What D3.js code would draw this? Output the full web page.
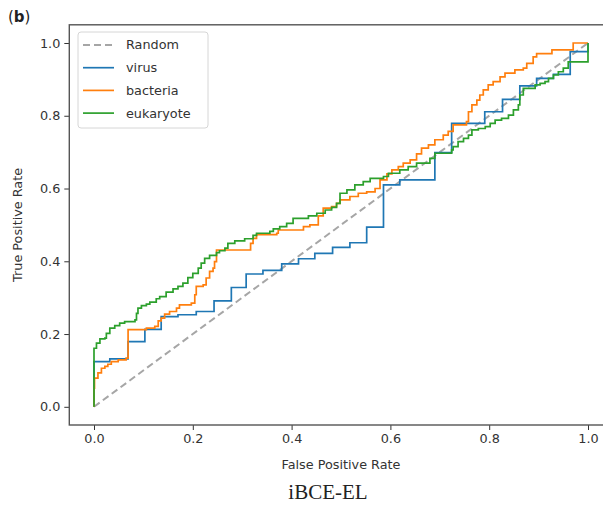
<!DOCTYPE html>
<html>
<head>
<meta charset="utf-8">
<script src="https://cdn.jsdelivr.net/npm/d3@7"></script>
<style>
  body { margin: 0; background: #fff; }
  svg { display: block; }
</style>
</head>
<body>
<div id="chart"></div>
<script>
// ROC corner points (drawn with step-after)
const virusFpr = [0, 0, 0.032, 0.069, 0.103, 0.136, 0.170, 0.207, 0.243, 0.278, 0.308, 0.342, 0.380, 0.414, 0.447, 0.483, 0.518, 0.552, 0.586, 0.619, 0.690, 0.724, 0.791, 0.827, 0.862, 0.896, 0.930, 0.964, 1.0];
const virusTpr = [0, 0.124, 0.132, 0.179, 0.213, 0.248, 0.253, 0.262, 0.291, 0.328, 0.365, 0.375, 0.393, 0.407, 0.422, 0.438, 0.451, 0.494, 0.610, 0.624, 0.699, 0.779, 0.811, 0.845, 0.882, 0.903, 0.914, 0.976, 1.0];

const bacteriaFpr = [0, 0, 0.001, 0.008, 0.015, 0.022, 0.028, 0.035, 0.049, 0.065, 0.069, 0.106, 0.123, 0.130, 0.136, 0.143, 0.153, 0.167, 0.173, 0.197, 0.204, 0.207, 0.221, 0.227, 0.234, 0.241, 0.244, 0.248, 0.317, 0.322, 0.329, 0.370, 0.373, 0.424, 0.437, 0.454, 0.464, 0.481, 0.491, 0.498, 0.518, 0.535, 0.552, 0.569, 0.579, 0.593, 0.603, 0.616, 0.626, 0.640, 0.653, 0.663, 0.677, 0.690, 0.707, 0.717, 0.727, 0.754, 0.758, 0.765, 0.775, 0.781, 0.788, 0.798, 0.808, 0.822, 0.832, 0.852, 0.869, 0.876, 0.889, 0.896, 0.927, 0.970, 1.0];
const bacteriaTpr = [0, 0.051, 0.079, 0.093, 0.106, 0.111, 0.117, 0.124, 0.129, 0.134, 0.212, 0.216, 0.221, 0.236, 0.244, 0.255, 0.262, 0.271, 0.280, 0.285, 0.308, 0.331, 0.335, 0.354, 0.372, 0.381, 0.399, 0.431, 0.449, 0.463, 0.473, 0.477, 0.486, 0.495, 0.500, 0.525, 0.546, 0.550, 0.559, 0.569, 0.578, 0.587, 0.591, 0.600, 0.624, 0.640, 0.651, 0.660, 0.670, 0.679, 0.695, 0.711, 0.720, 0.734, 0.747, 0.757, 0.775, 0.784, 0.811, 0.830, 0.843, 0.857, 0.871, 0.885, 0.894, 0.907, 0.917, 0.926, 0.931, 0.944, 0.962, 0.971, 0.981, 1.0, 1.0];

const eukaryoteFpr = [0, 0, 0.005, 0.012, 0.022, 0.025, 0.032, 0.042, 0.052, 0.062, 0.083, 0.086, 0.089, 0.096, 0.106, 0.113, 0.126, 0.133, 0.146, 0.160, 0.170, 0.180, 0.190, 0.200, 0.211, 0.217, 0.224, 0.234, 0.248, 0.254, 0.265, 0.271, 0.285, 0.305, 0.322, 0.329, 0.356, 0.363, 0.376, 0.390, 0.403, 0.434, 0.451, 0.468, 0.481, 0.491, 0.498, 0.512, 0.528, 0.545, 0.559, 0.586, 0.596, 0.619, 0.636, 0.653, 0.680, 0.690, 0.724, 0.727, 0.737, 0.748, 0.758, 0.765, 0.778, 0.792, 0.802, 0.812, 0.825, 0.839, 0.849, 0.859, 0.862, 0.869, 0.893, 0.903, 0.913, 0.920, 0.930, 0.940, 0.950, 0.960, 1.0];
const eukaryoteTpr = [0, 0.161, 0.175, 0.187, 0.189, 0.202, 0.216, 0.223, 0.230, 0.234, 0.239, 0.257, 0.271, 0.278, 0.282, 0.288, 0.297, 0.303, 0.315, 0.324, 0.331, 0.340, 0.355, 0.367, 0.381, 0.395, 0.408, 0.416, 0.424, 0.429, 0.436, 0.449, 0.456, 0.462, 0.471, 0.477, 0.482, 0.489, 0.495, 0.504, 0.518, 0.525, 0.532, 0.541, 0.548, 0.559, 0.587, 0.596, 0.610, 0.619, 0.628, 0.633, 0.642, 0.651, 0.660, 0.670, 0.683, 0.697, 0.706, 0.715, 0.729, 0.738, 0.747, 0.761, 0.765, 0.770, 0.779, 0.788, 0.793, 0.802, 0.816, 0.830, 0.857, 0.875, 0.885, 0.889, 0.894, 0.903, 0.912, 0.921, 0.931, 0.948, 1.0];

const seriesNames = ['virus', 'bacteria', 'eukaryote'];
const seriesColors = ['#1f77b4', '#ff7f0e', '#2ca02c'];
const tickValues = [0, 0.2, 0.4, 0.6, 0.8, 1.0];

const width = 603;
const height = 505;

const svg = d3.select('#chart')
  .append('svg')
  .attr('width', width)
  .attr('height', height)
  .style('font-family', 'DejaVu Sans, sans-serif');

svg.append('rect')
  .attr('width', width)
  .attr('height', height)
  .attr('fill', '#fff');

// matplotlib-like axes with 5% margins
const x = d3.scaleLinear()
  .domain([-0.05, 1.05])
  .range([69.3, 612.7]);

const y = d3.scaleLinear()
  .domain([-0.05, 1.05])
  .range([425, 24.8]);

const fmt = d3.format('.1f');

// x axis
const gx = svg.append('g')
  .attr('transform', `translate(0,${y(-0.05)})`)
  .call(d3.axisBottom(x).tickValues(tickValues).tickFormat(fmt).tickSize(5).tickPadding(4));
gx.select('.domain').remove();
gx.selectAll('line').attr('stroke', '#333').attr('stroke-width', 1);
gx.selectAll('text').attr('font-size', 12.8).attr('fill', '#333').attr('font-family', 'DejaVu Sans, sans-serif');

// y axis
const gy = svg.append('g')
  .attr('transform', `translate(${x(-0.05)},0)`)
  .call(d3.axisLeft(y).tickValues(tickValues).tickFormat(fmt).tickSize(5).tickPadding(4));
gy.select('.domain').remove();
gy.selectAll('line').attr('stroke', '#333').attr('stroke-width', 1);
gy.selectAll('text').attr('font-size', 12.8).attr('fill', '#333').attr('font-family', 'DejaVu Sans, sans-serif');

// plot frame
svg.append('rect')
  .attr('x', x(-0.05))
  .attr('y', y(1.05))
  .attr('width', x(1.05) - x(-0.05))
  .attr('height', y(-0.05) - y(1.05))
  .attr('fill', 'none')
  .attr('stroke', '#555')
  .attr('stroke-width', 1.4);

const plot = svg.append('g');

// diagonal reference
plot.append('path')
  .datum([[0, 0], [1, 1]])
  .attr('fill', 'none')
  .attr('stroke', '#a6a6a6')
  .attr('stroke-width', 2)
  .attr('stroke-dasharray', '7,4')
  .attr('d', d3.line().x(d => x(d[0])).y(d => y(d[1])));

const curves = [
  [virusFpr, virusTpr],
  [bacteriaFpr, bacteriaTpr],
  [eukaryoteFpr, eukaryoteTpr],
];

const stepLine = d3.line()
  .curve(d3.curveStepAfter)
  .x(d => x(d[0]))
  .y(d => y(d[1]));

curves.forEach(([fpr, tpr], i) => {
  plot.append('path')
    .datum(fpr.map((f, j) => [f, tpr[j]]))
    .attr('fill', 'none')
    .attr('stroke', seriesColors[i])
    .attr('stroke-width', 1.7)
    .attr('stroke-linejoin', 'miter')
    .attr('d', stepLine);
});

// legend
const legend = svg.append('g').attr('transform', 'translate(78,32)');
legend.append('rect')
  .attr('width', 130)
  .attr('height', 96)
  .attr('rx', 3)
  .attr('fill', 'rgba(255,255,255,0.85)')
  .attr('stroke', '#d6d6d6')
  .attr('stroke-width', 1);

const legendItems = [{ name: 'Random', color: '#a6a6a6', dash: '7,4' }]
  .concat(seriesNames.map((n, i) => ({ name: n, color: seriesColors[i], dash: null })));

legendItems.forEach((item, i) => {
  const cy = 13 + i * 22.7;
  legend.append('line')
    .attr('x1', 5)
    .attr('x2', 36)
    .attr('y1', cy)
    .attr('y2', cy)
    .attr('stroke', item.color)
    .attr('stroke-width', item.dash ? 2 : 1.7)
    .attr('stroke-dasharray', item.dash);
  legend.append('text')
    .attr('x', 48)
    .attr('y', cy)
    .attr('dy', '0.35em')
    .attr('font-size', 12.8)
    .attr('fill', '#333')
    .text(item.name);
});

// axis labels
svg.append('text')
  .attr('x', (x(-0.05) + x(1.05)) / 2)
  .attr('y', 469)
  .attr('text-anchor', 'middle')
  .attr('font-size', 12.8)
  .attr('fill', '#333')
  .text('False Positive Rate');

svg.append('text')
  .attr('transform', `translate(22,${(y(-0.05) + y(1.05)) / 2}) rotate(-90)`)
  .attr('text-anchor', 'middle')
  .attr('font-size', 12.8)
  .attr('fill', '#333')
  .text('True Positive Rate');

// panel tag
const tag = svg.append('text')
  .attr('x', 8)
  .attr('y', 22)
  .attr('font-size', 15)
  .attr('fill', '#222');
tag.append('tspan').text('(');
tag.append('tspan').attr('font-weight', 'bold').text('b');
tag.append('tspan').text(')');

// caption
svg.append('text')
  .attr('x', 328)
  .attr('y', 499)
  .attr('text-anchor', 'middle')
  .attr('font-size', 21)
  .attr('font-family', 'Liberation Serif, serif')
  .attr('fill', '#222')
  .text('iBCE-EL');
</script>
</body>
</html>
